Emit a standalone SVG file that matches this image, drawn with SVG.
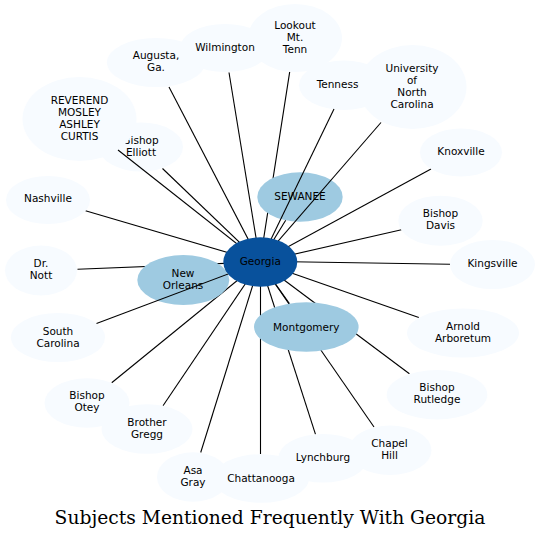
<svg xmlns="http://www.w3.org/2000/svg" width="540" height="539" viewBox="0 0 540 539">
<style>
.e line{stroke:#000;stroke-width:1.1;fill:none}
.lt{fill:#f7fbff}
.md{fill:#9ecae1}
.dk{fill:#08519c}
text{font-family:"DejaVu Sans","Liberation Sans",sans-serif;font-size:10.5px;fill:#000;text-anchor:middle}
.title{font-family:"DejaVu Serif","Liberation Serif",serif;font-size:18.7px}
</style>
<rect width="540" height="539" fill="#fff"/>
<g id="edges" class="e">
<line x1="289.7" y1="71.8" x2="260" y2="262"/>
<line x1="229" y1="72.5" x2="260" y2="262"/>
<line x1="169" y1="87" x2="260" y2="262"/>
<line x1="431" y1="169" x2="260" y2="262"/>
<line x1="162.5" y1="168.5" x2="260" y2="262"/>
<line x1="85.5" y1="210.8" x2="260" y2="262"/>
<line x1="77.5" y1="269.2" x2="260" y2="262"/>
<line x1="111.7" y1="382.8" x2="260" y2="262"/>
<line x1="163" y1="405.7" x2="260" y2="262"/>
<line x1="200.7" y1="452.5" x2="260" y2="262"/>
<line x1="260.5" y1="454" x2="260.5" y2="262"/>
<line x1="315.5" y1="434.3" x2="260" y2="262"/>
<line x1="374" y1="427" x2="260" y2="262"/>
<line x1="409.4" y1="373.7" x2="260" y2="262"/>
<line x1="418.8" y1="317.5" x2="260" y2="262"/>
<line x1="450" y1="264.3" x2="260" y2="261.3"/>
<line x1="401.5" y1="229.8" x2="260" y2="262"/>
<line x1="285.7" y1="220.3" x2="260" y2="262"/>
<line x1="289.4" y1="303.6" x2="260" y2="262"/>
<line x1="225.3" y1="270.1" x2="260" y2="262"/>
</g>
<g id="n-lookout"><ellipse class="lt" cx="295" cy="38" rx="47" ry="34"/><text x="295" y="28.8">Lookout</text><text x="295" y="40.8">Mt.</text><text x="295" y="52.8">Tenn</text></g>
<g id="n-augusta"><ellipse class="lt" cx="156" cy="62.5" rx="49" ry="24.5"/><text x="156" y="59.3">Augusta,</text><text x="156" y="71.3">Ga.</text></g>
<g id="n-wilmington"><ellipse class="lt" cx="225" cy="48" rx="45" ry="24"/><text x="225" y="50.8">Wilmington</text></g>
<g id="n-tennessee"><ellipse class="lt" cx="344" cy="85.3" rx="45" ry="24.7"/><text x="344" y="88.1">Tennessee</text></g>
<g id="n-unc"><ellipse class="lt" cx="412.5" cy="87" rx="54" ry="42"/><text x="412" y="71.8">University</text><text x="412" y="83.8">of</text><text x="412" y="95.8">North</text><text x="412" y="107.8">Carolina</text></g>
<g id="n-knoxville"><ellipse class="lt" cx="461" cy="152.5" rx="41" ry="24"/><text x="461" y="155.3">Knoxville</text></g>
<g id="n-elliott"><ellipse class="lt" cx="141" cy="147" rx="42" ry="24.5"/><text x="141" y="143.8">Bishop</text><text x="141" y="155.8">Elliott</text></g>
<g id="n-curtis"><ellipse class="lt" cx="79.5" cy="119" rx="57" ry="42"/><text x="79.5" y="103.8">REVEREND</text><text x="79.5" y="115.8">MOSLEY</text><text x="79.5" y="127.8">ASHLEY</text><text x="79.5" y="139.8">CURTIS</text></g>
<g id="n-nashville"><ellipse class="lt" cx="48" cy="200" rx="42" ry="24"/><text x="48" y="202.3">Nashville</text></g>
<g id="n-nott"><ellipse class="lt" cx="41" cy="270.5" rx="36" ry="25"/><text x="41" y="267.3">Dr.</text><text x="41" y="279.3">Nott</text></g>
<g id="n-southcarolina"><ellipse class="lt" cx="58" cy="337.5" rx="47" ry="24.5"/><text x="58" y="334.5">South</text><text x="58" y="346.5">Carolina</text></g>
<g id="n-otey"><ellipse class="lt" cx="87" cy="403" rx="42.5" ry="24.7"/><text x="87" y="399.3">Bishop</text><text x="87" y="411.3">Otey</text></g>
<g id="n-gregg"><ellipse class="lt" cx="147" cy="429" rx="45.5" ry="24.8"/><text x="147" y="426">Brother</text><text x="147" y="438">Gregg</text></g>
<g id="n-asagray"><ellipse class="lt" cx="193" cy="477" rx="36" ry="24.7"/><text x="193" y="473.8">Asa</text><text x="193" y="485.8">Gray</text></g>
<g id="n-chattanooga"><ellipse class="lt" cx="261" cy="478.5" rx="48" ry="24.3"/><text x="261" y="481.5">Chattanooga</text></g>
<g id="n-lynchburg"><ellipse class="lt" cx="323" cy="458.3" rx="44.7" ry="24.3"/><text x="323" y="461">Lynchburg</text></g>
<g id="n-chapelhill"><ellipse class="lt" cx="390" cy="450.3" rx="41.5" ry="24.7"/><text x="389.5" y="446.6">Chapel</text><text x="389.5" y="458.6">Hill</text></g>
<g id="n-rutledge"><ellipse class="lt" cx="437" cy="394.7" rx="50.3" ry="24.7"/><text x="437" y="391.3">Bishop</text><text x="437" y="403.3">Rutledge</text></g>
<g id="n-arnold"><ellipse class="lt" cx="463" cy="333" rx="56" ry="24.5"/><text x="463" y="329.6">Arnold</text><text x="463" y="341.6">Arboretum</text></g>
<g id="n-kingsville"><ellipse class="lt" cx="492.5" cy="264.5" rx="42.5" ry="24.5"/><text x="492.5" y="266.8">Kingsville</text></g>
<g id="n-davis"><ellipse class="lt" cx="440.5" cy="220.7" rx="42.2" ry="25"/><text x="440.5" y="217.3">Bishop</text><text x="440.5" y="229.3">Davis</text></g>
<g id="n-sewanee"><ellipse class="md" cx="300" cy="197" rx="42.7" ry="24.7"/><text x="300" y="199.9">SEWANEE</text></g>
<g id="n-montgomery"><ellipse class="md" cx="306.3" cy="327" rx="52.3" ry="24.7"/><text x="306.3" y="330.5">Montgomery</text></g>
<g id="n-neworleans"><ellipse class="md" cx="183.3" cy="280" rx="46" ry="25"/><text x="183" y="277">New</text><text x="183" y="289">Orleans</text></g>
<g id="edges-top" class="e">
<line x1="334" y1="109" x2="260" y2="262"/>
<line x1="381" y1="122.5" x2="260" y2="262"/>
<line x1="96.5" y1="323.6" x2="260" y2="262"/>
<line x1="118" y1="150" x2="260" y2="262"/>
</g>
<g id="n-georgia"><ellipse class="dk" cx="260.3" cy="262" rx="37" ry="24.7"/><text x="260.3" y="264.8">Georgia</text></g>
<text class="title" x="270" y="523.5">Subjects Mentioned Frequently With Georgia</text>
</svg>
